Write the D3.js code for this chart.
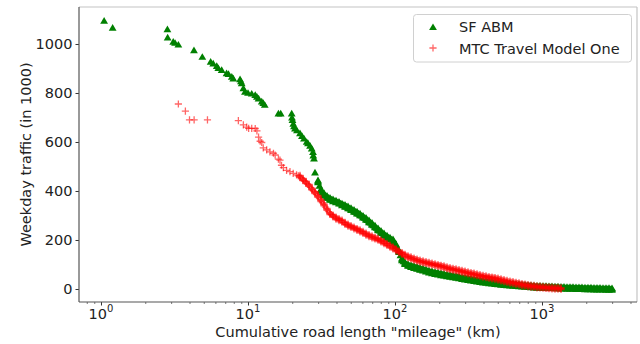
<!DOCTYPE html>
<html>
<head>
<meta charset="utf-8">
<script src="https://cdn.jsdelivr.net/npm/d3@7"></script>
<style>
  html, body { margin: 0; padding: 0; background: #fff; }
  svg { display: block; }
  text { font-family: "DejaVu Sans", sans-serif; fill: #222; }
</style>
</head>
<body>
<svg id="chart" width="640" height="344"></svg>
<script>
// ---------------- DATA ----------------
const seriesNames = ["SF ABM", "MTC Travel Model One"];
const xTickValues = [1, 10, 100, 1000];
const xTickExponents = ["0", "1", "2", "3"];
const yTickValues = [0, 200, 400, 600, 800, 1000];
const xLabel = 'Cumulative road length "mileage" (km)';
const yLabel = "Weekday traffic (in 1000)";

// SF ABM (green triangles) – sparse part: cumulative length (km) / weekday traffic (1000)
const sfX = [1.05, 1.20, 2.83, 2.84, 3.10, 3.19, 3.36, 4.29, 4.89, 5.57, 5.80, 6.13, 6.28, 6.62, 7.15, 7.37, 7.76, 7.94,
  8.83, 8.95, 9.06, 9.30, 9.54, 10.0, 10.6, 11.2, 11.5, 11.8, 12.4, 12.7, 13.0, 16.1, 16.7,
  19.83, 19.92, 20.08, 20.33, 20.56, 20.88, 21.54, 22.58, 23.29, 24.04, 25.08, 25.60, 26.42, 27.13, 27.68, 27.81, 28.12, 28.56];
const sfY = [1095, 1067, 1061, 1027, 1010, 1005, 998, 975, 948, 928, 921, 911, 902, 894, 881, 878, 867, 860,
  857, 848, 840, 820, 806, 801, 798, 792, 785, 778, 766, 760, 752, 717, 717,
  717, 700, 690, 675, 665, 656, 648, 636, 625, 615, 601, 595, 585, 574, 560, 545, 533, 476];

// SF ABM – dense band: lengths (km), band middle, upper and lower readings
const sfBandX = [29.94, 31.38, 32.89, 34.47, 36.13, 37.87, 39.69, 41.60, 43.60, 45.70, 47.90, 50.20, 52.62, 55.15, 57.80,
  60.58, 63.50, 66.55, 69.75, 73.11, 76.63, 80.31, 84.18, 88.23, 92.47, 96.92, 101.58, 106.47, 111.59, 116.96,
  122.59, 128.49, 134.67, 141.15, 147.94, 155.06, 162.52, 170.34, 178.53, 187.12, 196.13, 205.56, 215.45, 225.82,
  236.68, 248.07, 260.01, 272.52, 285.63, 299.37, 313.77, 328.87, 344.69, 361.27, 378.65, 396.87, 415.97, 435.98,
  456.96, 478.94, 501.98, 526.13, 551.45, 577.98, 605.79, 634.93, 665.48, 697.50, 731.06, 766.23, 803.09, 841.73,
  882.23, 924.68, 969.17, 1015.8, 1064.7, 1115.9, 1169.6, 1225.9, 1284.8, 1346.7, 1411.5, 1479.4, 1550.6, 1625.2,
  1703.4, 1785.3, 1871.2, 1961.2, 2055.6, 2154.5, 2258.1, 2366.8, 2480.7, 2600.0, 2725.1, 2856.2, 2993.6];
const sfBandMid = [440, 405, 388, 377, 369, 363, 358, 353, 346, 340, 334, 327, 320, 313, 305, 296, 287, 277, 267, 256,
  245, 234, 224, 215, 207, 200, 180, 155, 122, 106, 99, 94, 90, 87, 83, 80, 76, 72, 69, 66,
  64, 61, 59, 56, 54, 52, 50, 48, 45, 43, 41, 39, 37, 35, 33, 31, 30, 28, 27, 25,
  24, 22, 21, 20, 19, 18, 17, 16, 15, 14, 13, 12, 11, 10, 10, 9, 9, 8, 8, 7,
  7, 6, 6, 5, 5, 5, 4, 4, 4, 3, 3, 3, 2, 2, 2, 1, 1, 1, 0];
const sfBandHi = [444, 409, 392, 381, 373, 367, 362, 357, 350, 344, 338, 331, 324, 317, 309, 300, 291, 281, 271, 260,
  249, 238, 228, 219, 211, 204, 184, 159, 126, 110, 103, 98, 94, 91, 87, 84, 80, 76, 73, 70,
  68, 65, 63, 60, 58, 56, 54, 52, 49, 47, 45, 43, 41, 39, 37, 35, 34, 32, 31, 29,
  28, 26, 25, 24, 23, 22, 21, 20, 19, 18, 17, 16, 15, 14, 14, 13, 13, 12, 12, 11,
  11, 10, 10, 9, 9, 9, 8, 8, 8, 7, 7, 7, 6, 6, 6, 5, 5, 5, 4];
const sfBandLo = [436, 401, 384, 373, 365, 359, 354, 349, 342, 336, 330, 323, 316, 309, 301, 292, 283, 273, 263, 252,
  241, 230, 220, 211, 203, 196, 176, 151, 118, 102, 95, 90, 86, 83, 79, 76, 72, 68, 65, 62,
  60, 57, 55, 52, 50, 48, 46, 44, 41, 39, 37, 35, 33, 31, 29, 27, 26, 24, 23, 21,
  20, 18, 17, 16, 15, 14, 13, 12, 11, 10, 9, 8, 7, 6, 6, 5, 5, 4, 4, 3,
  3, 2, 2, 1, 1, 1, 0, 0, 0, -1, -1, -1, -2, -2, -2, -2, -3, -3, -3];
// SF ABM – extra readings between the band positions above
const sfHalfX = [30.64, 32.12, 33.66, 35.28, 36.98, 38.76, 40.62, 42.58, 44.63, 46.77, 49.02, 51.38, 53.85, 56.44,
  59.16, 62.00, 64.99, 68.12, 71.40, 74.83, 78.43, 82.21, 86.17, 90.31, 94.66, 99.21, 103.98, 108.98, 114.23,
  119.72, 125.48, 131.52, 137.85, 144.48, 151.43, 158.72, 166.36, 174.36, 182.75, 191.54, 200.76, 210.42, 220.54,
  231.15, 242.27, 253.93, 266.15, 278.96, 292.38, 306.45, 321.19, 336.65, 352.85, 369.83, 387.62, 406.27, 425.82,
  446.31, 467.79, 490.30, 513.89, 538.62, 564.54, 591.70, 620.17, 650.01, 681.29, 714.07, 748.43, 784.44, 822.19,
  861.75, 903.22, 946.68, 992.24, 1040.0, 1090.0, 1142.5, 1197.4, 1255.0, 1315.4, 1378.7, 1445.1, 1514.6, 1587.5,
  1663.9, 1743.9, 1827.8, 1915.8, 2008.0, 2104.6, 2205.9, 2312.0, 2423.3, 2539.9, 2662.1, 2790.2, 2924.4];
const sfHalfY = [422, 396, 382, 373, 366, 360, 355, 350, 343, 337, 330, 323, 316, 309, 300, 291, 282, 272, 261, 250,
  239, 229, 219, 211, 203, 190, 167, 138, 114, 102, 96, 92, 88, 85, 81, 78, 74, 70, 67, 65,
  62, 60, 57, 55, 53, 51, 49, 46, 44, 42, 40, 38, 36, 34, 32, 30, 29, 27, 26, 24,
  23, 21, 20, 19, 18, 17, 16, 15, 14, 13, 12, 11, 10, 10, 9, 9, 8, 8, 7, 7,
  6, 6, 5, 5, 5, 4, 4, 4, 3, 3, 3, 2, 2, 2, 1, 1, 1, 0];

// MTC Travel Model One (red pluses) – sparse part
const mtcX = [3.36, 3.75, 4.0, 4.3, 5.3, 8.6, 9.3, 9.8, 10.1, 10.6, 11.2, 11.5, 11.8, 12.1, 12.4, 12.7, 13.4, 14.1,
  14.9, 15.3, 16.1, 16.5, 16.9, 17.4, 18.3, 19.3, 20.3, 21.4, 22.0];
const mtcY = [755, 726, 690, 690, 690, 687, 670, 661, 656, 656, 655, 645, 620, 603, 598, 576, 568, 560,
  554, 547, 530, 526, 505, 495, 484, 479, 472, 466, 462];

// MTC – dense band
const mtcBandX = [22.58, 23.67, 24.81, 26.00, 27.25, 28.56, 29.94, 31.38, 32.89, 34.47, 36.13, 37.87, 39.69, 41.60, 43.60, 45.70,
  47.90, 50.20, 52.62, 55.15, 57.80, 60.58, 63.50, 66.55, 69.75, 73.11, 76.63, 80.31, 84.18, 88.23, 92.47, 96.92,
  101.58, 106.47, 111.59, 116.96, 122.59, 128.49, 134.67, 141.15, 147.94, 155.06, 162.52, 170.34, 178.53, 187.12,
  196.13, 205.56, 215.45, 225.82, 236.68, 248.07, 260.01, 272.52, 285.63, 299.37, 313.77, 328.87, 344.69, 361.27,
  378.65, 396.87, 415.97, 435.98, 456.96, 478.94, 501.98, 526.13, 551.45, 577.98, 605.79, 634.93, 665.48, 697.50,
  731.06, 766.23, 803.09, 841.73, 882.23, 924.68, 969.17, 1015.8, 1064.7, 1115.9, 1169.6, 1225.9, 1284.8, 1346.7];
const mtcBandMid = [460, 446, 435, 423, 408, 393, 378, 361, 343, 325, 308, 298, 289, 283, 277, 268, 261, 255, 249, 243,
  237, 231, 224, 218, 213, 208, 203, 196, 189, 182, 175, 168, 160, 152, 145, 137, 131, 127, 122, 118,
  114, 111, 108, 105, 102, 99, 96, 93, 90, 86, 83, 80, 78, 75, 72, 69, 66, 63, 61, 58,
  55, 52, 50, 47, 45, 43, 40, 37, 34, 31, 28, 26, 23, 21, 18, 16, 14, 12, 11, 9,
  8, 7, 6, 5, 4, 3, 3, 2];
const mtcBandHi = [464, 450, 439, 427, 412, 397, 382, 365, 347, 329, 312, 302, 293, 287, 281, 272, 265, 259, 253, 247,
  241, 235, 228, 222, 217, 212, 207, 200, 193, 186, 179, 172, 164, 156, 149, 141, 135, 131, 126, 122,
  118, 115, 112, 109, 106, 103, 100, 97, 94, 90, 87, 84, 82, 79, 76, 73, 70, 67, 65, 62,
  59, 56, 54, 51, 49, 47, 44, 41, 38, 35, 32, 30, 27, 25, 22, 20, 18, 16, 15, 13,
  12, 11, 10, 9, 8, 7, 7, 6];
const mtcBandLo = [456, 442, 431, 419, 404, 389, 374, 357, 339, 321, 304, 294, 285, 279, 273, 264, 257, 251, 245, 239,
  233, 227, 220, 214, 209, 204, 199, 192, 185, 178, 171, 164, 156, 148, 141, 133, 127, 123, 118, 114,
  110, 107, 104, 101, 98, 95, 92, 89, 86, 82, 79, 76, 74, 71, 68, 65, 62, 59, 57, 54,
  51, 48, 46, 43, 41, 39, 36, 33, 30, 27, 24, 22, 19, 17, 14, 12, 10, 8, 7, 5,
  4, 3, 2, 1, 0, -1, -1, -2];
// MTC – extra readings between the band positions above
const mtcHalfX = [23.11, 24.22, 25.39, 26.61, 27.89, 29.24, 30.64, 32.12, 33.66, 35.28, 36.98, 38.76, 40.62, 42.58, 44.63,
  46.77, 49.02, 51.38, 53.85, 56.44, 59.16, 62.00, 64.99, 68.12, 71.40, 74.83, 78.43, 82.21, 86.17, 90.31, 94.66,
  99.21, 103.98, 108.98, 114.23, 119.72, 125.48, 131.52, 137.85, 144.48, 151.43, 158.72, 166.36, 174.36, 182.75,
  191.54, 200.76, 210.42, 220.54, 231.15, 242.27, 253.93, 266.15, 278.96, 292.38, 306.45, 321.19, 336.65, 352.85,
  369.83, 387.62, 406.27, 425.82, 446.31, 467.79, 490.30, 513.89, 538.62, 564.54, 591.70, 620.17, 650.01, 681.29,
  714.07, 748.43, 784.44, 822.19, 861.75, 903.22, 946.68, 992.24, 1040.0, 1090.0, 1142.5, 1197.4, 1255.0, 1315.4];
const mtcHalfY = [453, 440, 429, 415, 400, 385, 369, 352, 334, 316, 303, 293, 286, 280, 272, 264, 258, 252, 246, 240,
  234, 227, 221, 215, 210, 205, 199, 192, 185, 178, 171, 164, 156, 148, 141, 134, 129, 124, 120, 116,
  112, 109, 106, 103, 100, 97, 94, 91, 88, 84, 81, 79, 76, 73, 70, 67, 64, 62, 59, 56,
  53, 51, 48, 46, 44, 41, 38, 35, 32, 29, 27, 24, 22, 19, 17, 15, 13, 11, 10, 8,
  7, 6, 5, 4, 3, 3, 2];

// ---------------- CHART ----------------
const svg = d3.select("#chart");
const L = 79, R = 637, T = 7, B = 302;

const x = d3.scaleLog().domain([0.7085, 4429]).range([L, R]);
const y = d3.scaleLinear().domain([-53.06, 1151]).range([B, T]);

const green = "#008000", red = "#ff0000";
const triPath = "M0,-3.6L3.9,3.1L-3.9,3.1Z";
const plusPath = "M-3.6,0H3.6M0,-3.6V3.6";

// axes
const yAxis = d3.axisLeft(y).tickValues(yTickValues).tickSize(3.5).tickPadding(3).tickFormat(d3.format("d"));
const gy = svg.append("g").attr("transform", `translate(${L},0)`).call(yAxis);
gy.select(".domain").remove();
gy.selectAll(".tick line").attr("stroke", "#333").attr("stroke-width", 1);
gy.selectAll(".tick text").attr("font-size", "14.5px").attr("font-family", "DejaVu Sans").attr("fill", "#222");

const minorVals = [];
[0.1, 1, 10, 100, 1000].forEach(d => { for (let k = 2; k <= 9; k++) { const v = d * k; if (v > 0.7085 && v < 4429) minorVals.push(v); } });
const xMinor = d3.axisBottom(x).tickValues(minorVals).tickSize(2).tickFormat("");
const gxm = svg.append("g").attr("transform", `translate(0,${B})`).call(xMinor);
gxm.select(".domain").remove();
gxm.selectAll(".tick line").attr("stroke", "#555").attr("stroke-width", 0.8);

const xAxis = d3.axisBottom(x).tickValues(xTickValues).tickSize(3.5).tickFormat("");
const gx = svg.append("g").attr("transform", `translate(0,${B})`).call(xAxis);
gx.select(".domain").remove();
gx.selectAll(".tick line").attr("stroke", "#333").attr("stroke-width", 1);

const xl = svg.append("g").selectAll("text").data(xTickValues).join("text")
  .attr("x", d => x(d)).attr("y", 318.7).attr("text-anchor", "middle")
  .attr("font-size", "14.5px");
xl.append("tspan").text("10");
xl.append("tspan").attr("font-size", "10px").attr("dy", -6.5).text((d, i) => xTickExponents[i]);

// spines
svg.append("line").attr("x1", L).attr("x2", R).attr("y1", T).attr("y2", T).attr("stroke", "#c4c4c4").attr("stroke-width", 1.2);
svg.append("line").attr("x1", R).attr("x2", R).attr("y1", T).attr("y2", B).attr("stroke", "#c4c4c4").attr("stroke-width", 1.2);
svg.append("line").attr("x1", L).attr("x2", L).attr("y1", T).attr("y2", B).attr("stroke", "#555").attr("stroke-width", 1.2);
svg.append("line").attr("x1", L).attr("x2", R).attr("y1", B).attr("y2", B).attr("stroke", "#555").attr("stroke-width", 1.2);

// data points
const pairs = (xs, ys) => xs.map((v, i) => [v, ys[i]]);
const sfData = pairs(sfX, sfY)
  .concat(pairs(sfBandX, sfBandHi), pairs(sfBandX, sfBandMid), pairs(sfBandX, sfBandLo), pairs(sfHalfX, sfHalfY));
const mtcData = pairs(mtcX, mtcY)
  .concat(pairs(mtcBandX, mtcBandHi), pairs(mtcBandX, mtcBandMid), pairs(mtcBandX, mtcBandLo), pairs(mtcHalfX, mtcHalfY));

svg.append("g").selectAll("path").data(sfData).join("path")
  .attr("d", triPath).attr("fill", green)
  .attr("transform", d => `translate(${x(d[0])},${y(d[1])})`);

svg.append("g").selectAll("path").data(mtcData).join("path")
  .attr("d", plusPath).attr("fill", "none").attr("stroke", red).attr("stroke-width", 1.3).attr("stroke-opacity", 0.6)
  .attr("transform", d => `translate(${x(d[0])},${y(d[1])})`);

// axis labels
svg.append("text").attr("x", (L + R) / 2).attr("y", 337).attr("text-anchor", "middle")
  .attr("font-size", "14.5px").text(xLabel);
svg.append("text").attr("transform", `translate(31,${(T + B) / 2}) rotate(-90)`).attr("text-anchor", "middle")
  .attr("font-size", "14.5px").text(yLabel);

// legend
const lg = svg.append("g");
lg.append("rect").attr("x", 413.5).attr("y", 14.5).attr("width", 218).attr("height", 47.5).attr("rx", 3)
  .attr("fill", "#fff").attr("fill-opacity", 0.8).attr("stroke", "#d0d0d0").attr("stroke-width", 1);
lg.append("path").attr("d", triPath).attr("fill", green).attr("transform", "translate(433,27)");
lg.append("path").attr("d", plusPath).attr("fill", "none").attr("stroke", red).attr("stroke-width", 1.3)
  .attr("stroke-opacity", 0.6).attr("transform", "translate(433,48)");
lg.append("text").attr("x", 459).attr("y", 31.7).attr("font-size", "14.5px").text(seriesNames[0]);
lg.append("text").attr("x", 459).attr("y", 53.5).attr("font-size", "14.5px").text(seriesNames[1]);
</script>
</body>
</html>
